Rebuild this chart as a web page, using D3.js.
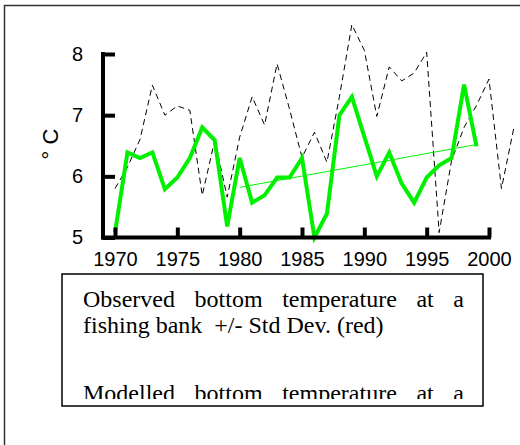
<!DOCTYPE html>
<html>
<head>
<meta charset="utf-8">
<script src="https://cdn.jsdelivr.net/npm/d3@7/dist/d3.min.js"></script>
<style>
html,body{margin:0;padding:0;background:#fff;}
svg{display:block;}
</style>
</head>
<body>
<svg id="chart" width="520" height="445"></svg>
<script>
// ---- data ----
const observedYears = [1970,1971,1972,1973,1974,1975,1976,1977,1978,1979,1980,1981,1982,1983,1984,1985,1986,1987,1988,1989,1990,1991,1992,1993,1994,1995,1996,1997,1998,1999];
const observedTemp  = [5.08,6.39,6.3,6.39,5.79,5.98,6.3,6.8,6.59,5.18,6.3,5.57,5.69,5.98,5.98,6.3,5.0,5.39,7.0,7.3,6.65,6.0,6.39,5.88,5.57,5.98,6.18,6.3,7.5,6.49];
const modelYears = [1970,1971,1972,1973,1974,1975,1976,1977,1978,1979,1980,1981,1982,1983,1984,1985,1986,1987,1988,1989,1990,1991,1992,1993,1994,1995,1996,1997,1998,1999,2000,2001,2002];
const modelTemp  = [5.8,6.15,6.6,7.49,7.0,7.15,7.08,5.69,6.59,5.66,6.64,7.3,6.84,7.84,7.1,6.31,6.72,6.23,7.3,8.48,8.06,6.98,7.79,7.56,7.69,8.03,5.08,6.26,6.8,7.16,7.59,5.8,6.8];
const trendYears = [1980,1999];
const trendTemp  = [5.82,6.52];
const xTicks = [1970,1975,1980,1985,1990,1995,2000];
const yTicks = [5,6,7,8];
const yLabel = "° C";
const legendLine1 = "Observed bottom temperature at a";
const legendLine2 = "fishing bank  +/- Std Dev. (red)";
const legendLine3 = "Modelled bottom temperature at a";

// ---- drawing ----
const svg = d3.select("#chart");
const x = d3.scaleLinear().domain([1970,2000]).range([115,489]);
const y = d3.scaleLinear().domain([5,8]).range([237.5,54]);
const sans = "Arial, 'Liberation Sans', sans-serif";

// outer frame
svg.append("rect").attr("x",4.5).attr("y",5.5).attr("width",700).attr("height",700)
  .attr("fill","none").attr("stroke","#333").attr("stroke-width",1.5);

const line = d3.line().x(d=>x(d[0])).y(d=>y(d[1]));

// modelled dashed line
svg.append("path").datum(modelYears.map((yr,i)=>[yr,modelTemp[i]]))
  .attr("d",line).attr("fill","none").attr("stroke","#000").attr("stroke-width",1)
  .attr("stroke-dasharray","6,4");

// observed thick green
svg.append("path").datum(observedYears.map((yr,i)=>[yr,observedTemp[i]]))
  .attr("d",line).attr("fill","none").attr("stroke","#00f000").attr("stroke-width",4)
  .attr("stroke-linejoin","miter");

// trend thin green
svg.append("path").datum(trendYears.map((yr,i)=>[yr,trendTemp[i]]))
  .attr("d",line).attr("fill","none").attr("stroke","#00f000").attr("stroke-width",1);

// axes
const xAxis = d3.axisBottom(x).tickValues(xTicks).tickFormat(d3.format("d")).tickSizeInner(-10).tickSizeOuter(0).tickPadding(14);
const gx = svg.append("g").attr("transform","translate(0,237.5)").call(xAxis);
gx.select(".domain").remove();
gx.selectAll(".tick line").attr("stroke","#000").attr("stroke-width",4);
gx.selectAll(".tick text").attr("font-family",sans).attr("font-size",20).attr("fill","#000");
svg.append("line").attr("x1",101).attr("x2",489+2).attr("y1",237.5).attr("y2",237.5)
  .attr("stroke","#000").attr("stroke-width",4);

const yAxis = d3.axisLeft(y).tickValues(yTicks).tickFormat(d3.format("d")).tickSizeInner(-12).tickSizeOuter(0).tickPadding(20);
const gy = svg.append("g").attr("transform","translate(103,0)").call(yAxis);
gy.select(".domain").remove();
gy.selectAll(".tick line").attr("stroke","#000").attr("stroke-width",4);
gy.selectAll(".tick text").attr("font-family",sans).attr("font-size",20).attr("fill","#000");
svg.append("line").attr("x1",103).attr("x2",103).attr("y1",52).attr("y2",239.5)
  .attr("stroke","#000").attr("stroke-width",4);

// y label
svg.append("text").attr("transform","translate(58,144) rotate(-90)")
  .attr("text-anchor","middle").attr("font-family",sans)
  .attr("font-size",22).text(yLabel);

// legend box
svg.append("rect").attr("x",62).attr("y",274).attr("width",421).attr("height",132)
  .attr("fill","#fff").attr("stroke","#000").attr("stroke-width",1.5);
svg.append("defs").append("clipPath").attr("id","lclip").append("rect")
  .attr("x",62).attr("y",274).attr("width",421).attr("height",125);
const lg = svg.append("g").attr("clip-path","url(#lclip)")
  .attr("font-family","'Times New Roman', 'Liberation Serif', serif").attr("font-size",24).attr("fill","#000");

function justified(str, x0, x1, yb){
  const words = str.split(" ");
  const nodes = words.map(w=>lg.append("text").attr("y",yb).text(w));
  const widths = nodes.map(n=>n.node().getComputedTextLength());
  const total = d3.sum(widths);
  const gap = (x1-x0-total)/(words.length-1);
  let cx = x0;
  nodes.forEach((n,i)=>{ n.attr("x",cx); cx += widths[i]+gap; });
}
justified(legendLine1, 83, 464, 307);
lg.append("text").attr("x",83).attr("y",333).attr("xml:space","preserve").style("white-space","pre").text(legendLine2);
justified(legendLine3, 83, 464, 401);
</script>
</body>
</html>
